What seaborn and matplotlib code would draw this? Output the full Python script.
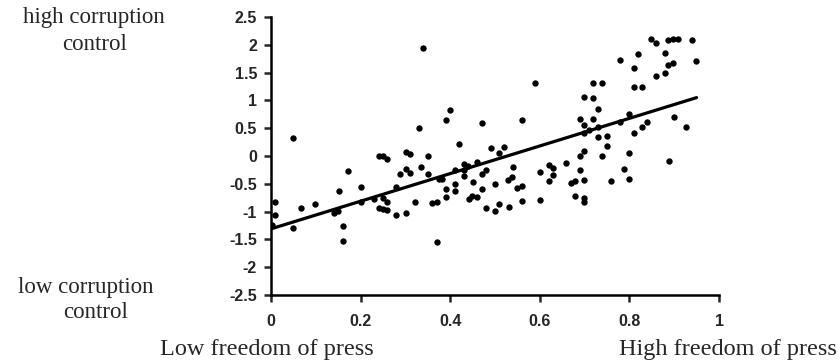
import matplotlib
matplotlib.use("Agg")
import matplotlib.pyplot as plt
import seaborn as sns
import pandas as pd

# Freedom of press (x) vs corruption control (y)
press_freedom = [
    0.010, 0.008, 0.003, 0.050, 0.050, 0.068, 0.099, 0.140, 0.149, 0.151,
    0.160, 0.160, 0.171, 0.200, 0.200, 0.229, 0.240, 0.251, 0.260, 0.240,
    0.249, 0.251, 0.260, 0.260, 0.280, 0.280, 0.289, 0.301, 0.301, 0.310,
    0.310, 0.301, 0.321, 0.334, 0.339, 0.330, 0.390, 0.399, 0.419, 0.470,
    0.490, 0.508, 0.520, 0.350, 0.350, 0.410, 0.430, 0.439, 0.459, 0.430,
    0.430, 0.374, 0.381, 0.479, 0.470, 0.540, 0.537, 0.528, 0.499, 0.450,
    0.410, 0.390, 0.410, 0.470, 0.549, 0.560, 0.390, 0.441, 0.448, 0.459,
    0.359, 0.370, 0.508, 0.499, 0.479, 0.531, 0.560, 0.600, 0.600, 0.620,
    0.629, 0.629, 0.620, 0.658, 0.370, 0.589, 0.560, 0.848, 0.859, 0.886,
    0.897, 0.908, 0.940, 0.779, 0.819, 0.879, 0.886, 0.897, 0.949, 0.810,
    0.859, 0.879, 0.718, 0.739, 0.810, 0.828, 0.698, 0.718, 0.730, 0.689,
    0.718, 0.698, 0.730, 0.799, 0.899, 0.839, 0.828, 0.926, 0.810, 0.730,
    0.750, 0.710, 0.698, 0.750, 0.698, 0.689, 0.739, 0.799, 0.888, 0.689,
    0.788, 0.698, 0.678, 0.669, 0.759, 0.799, 0.678, 0.698, 0.698, 0.779,
]
corruption_control = [
    -0.83, -1.06, -1.24, 0.32, -1.30, -0.94, -0.87, -1.03, -0.99, -0.63,
    -1.26, -1.53, -0.27, -0.56, -0.83, -0.78, 0.00, 0.00, -0.06, -0.94,
    -0.76, -0.96, -0.83, -0.97, -0.56, -1.06, -0.33, -0.24, 0.07, 0.03,
    -0.31, -1.03, -0.83, -0.20, 1.95, 0.50, 0.64, 0.82, 0.21, 0.59,
    0.14, 0.05, 0.16, 0.00, -0.33, -0.26, -0.15, -0.18, -0.11, -0.26,
    -0.36, -0.42, -0.42, -0.26, -0.33, -0.20, -0.38, -0.43, -0.51, -0.47,
    -0.51, -0.60, -0.63, -0.60, -0.58, -0.54, -0.74, -0.78, -0.72, -0.74,
    -0.85, -0.83, -0.87, -0.99, -0.94, -0.92, -0.81, -0.79, -0.29, -0.17,
    -0.22, -0.34, -0.45, -0.13, -1.55, 1.32, 0.64, 2.10, 2.04, 2.08,
    2.10, 2.11, 2.08, 1.72, 1.83, 1.86, 1.63, 1.67, 1.70, 1.58,
    1.43, 1.49, 1.31, 1.31, 1.24, 1.24, 1.06, 1.04, 0.84, 0.66,
    0.66, 0.55, 0.52, 0.75, 0.70, 0.61, 0.52, 0.52, 0.41, 0.34,
    0.36, 0.46, 0.41, 0.18, 0.09, 0.00, 0.00, 0.05, -0.09, -0.25,
    -0.24, -0.43, -0.45, -0.49, -0.45, -0.42, -0.72, -0.76, -0.83, 0.61,
]

# Trend line endpoints as printed in the chart
trend_x = [0.0, 0.95]
trend_y = [-1.31, 1.05]

x_ticks = [0, 0.2, 0.4, 0.6, 0.8, 1]
x_tick_labels = ["0", "0.2", "0.4", "0.6", "0.8", "1"]
y_ticks = [2.5, 2, 1.5, 1, 0.5, 0, -0.5, -1, -1.5, -2, -2.5]
y_tick_labels = ["2.5", "2", "1.5", "1", "0.5", "0", "-0.5", "-1", "-1.5", "-2", "-2.5"]

df = pd.DataFrame({"press": press_freedom, "corruption": corruption_control})
trend = pd.DataFrame({"x": trend_x, "y": trend_y})

sns.set_style("ticks")
plt.rcParams["font.family"] = ["Liberation Sans", "DejaVu Sans"]

fig = plt.figure(figsize=(8.38, 3.64), dpi=100)
ax = fig.add_axes([271 / 838, 1 - 295 / 364, 448 / 838, 278 / 364])

sns.scatterplot(data=df, x="press", y="corruption", ax=ax, color="black",
                s=21, linewidth=0, zorder=3)
sns.lineplot(data=trend, x="x", y="y", ax=ax, color="black", linewidth=2.3,
             zorder=4)

ax.set_xlim(0, 1)
ax.set_ylim(-2.5, 2.5)
ax.set_xticks(x_ticks)
ax.set_xticklabels(x_tick_labels)
ax.set_yticks(y_ticks)
ax.set_yticklabels(y_tick_labels)
ax.set_xlabel("")
ax.set_ylabel("")
for lab in ax.get_xticklabels() + ax.get_yticklabels():
    lab.set_fontweight("bold")
    lab.set_fontsize(11.5)
ax.tick_params(axis="x", direction="out", length=5, width=1.8, pad=9)
ax.tick_params(axis="y", direction="out", length=5, width=1.8, pad=5)
sns.despine(ax=ax)
for sp in ("left", "bottom"):
    ax.spines[sp].set_linewidth(1.8)
    ax.spines[sp].set_color("black")

serif = ["Liberation Serif", "DejaVu Serif"]
fs = 16.5
fs_bottom = 17.5
fig.text(94 / 838, 1 - 18 / 364, "high corruption", ha="center", va="center",
         family=serif, fontsize=fs)
fig.text(95 / 838, 1 - 45 / 364, "control", ha="center", va="center",
         family=serif, fontsize=fs)
fig.text(86 / 838, 1 - 287 / 364, "low corruption", ha="center", va="center",
         family=serif, fontsize=fs)
fig.text(96 / 838, 1 - 312 / 364, "control", ha="center", va="center",
         family=serif, fontsize=fs)
fig.text(160 / 838, 1 - 350 / 364, "Low freedom of press", ha="left", va="center",
         family=serif, fontsize=fs_bottom)
fig.text(837 / 838, 1 - 350 / 364, "High freedom of press", ha="right", va="center",
         family=serif, fontsize=fs_bottom)

fig.savefig("out.png", dpi=100)
